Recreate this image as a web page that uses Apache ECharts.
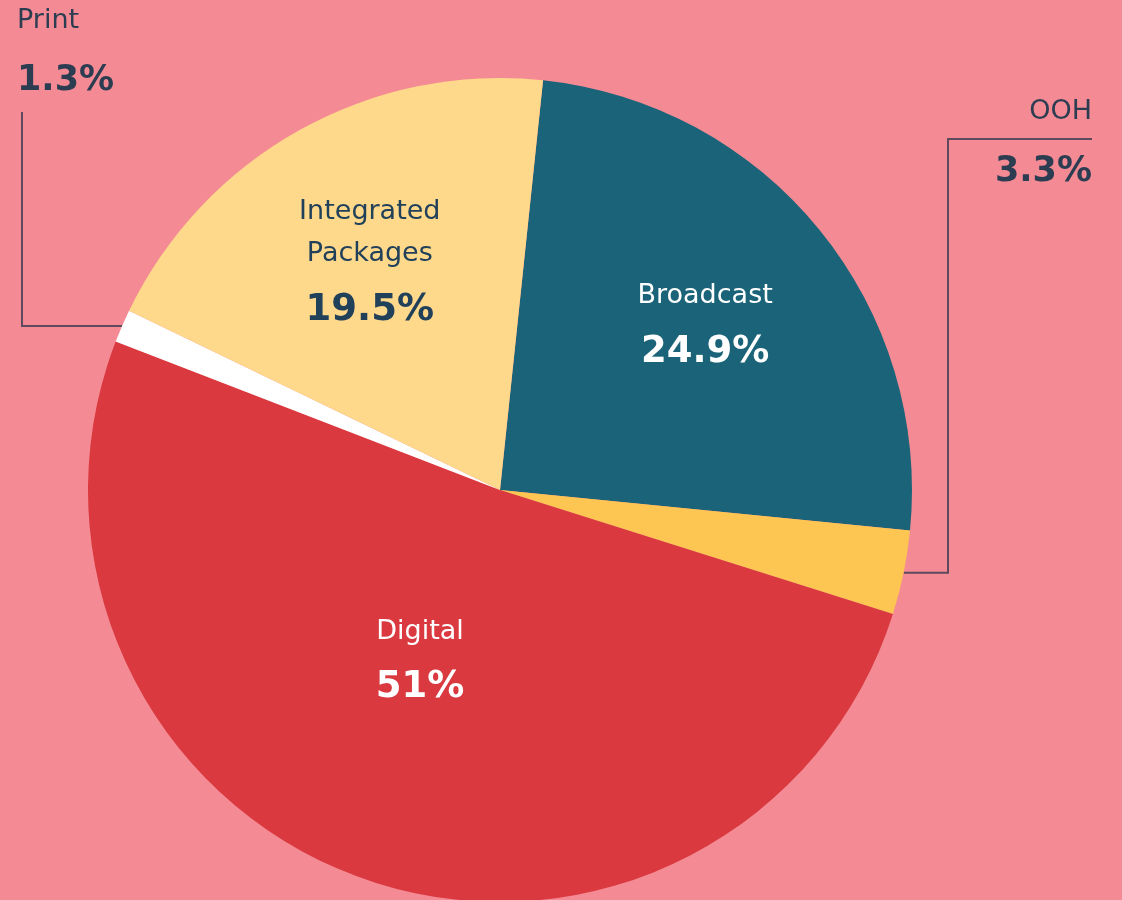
<!DOCTYPE html>
<html>
<head>
  <meta charset="utf-8" />
  <title>Media spend share</title>
  <script src="https://cdn.jsdelivr.net/npm/echarts@6.0.0/dist/echarts.min.js"></script>
</head>
<style>
  body { margin: 0; padding: 0; overflow: hidden; background: #F48B94; }
</style>
<body>
  <div id="main" style="width: 1122px; height: 900px;"></div>
  <script type="text/javascript">
    // data, clockwise from the top
    const categories = ['Broadcast', 'OOH', 'Digital', 'Print', 'Integrated Packages'];
    const shares = [24.9, 3.3, 51, 1.3, 19.5];
    const labelNames = ['Broadcast', 'OOH', 'Digital', 'Print', 'Integrated\nPackages'];
    const valueTexts = ['24.9%', '3.3%', '51%', '1.3%', '19.5%'];

    const colors = ['#1B6378', '#FDC552', '#D9393F', '#FFFFFF', '#FED98B'];
    const CX = 500, CY = 490, R = 412;
    const START = 84; // degrees, echarts convention

    // where the inside labels sit: fraction of radius + small angle nudge (deg)
    const insidePos = { 0: [0.63, 1.4], 2: [0.471, 5], 4: [0.6245, -1.3] };

    // mid angle of slice i (radians, measured clockwise from 12 o'clock)
    function midAngle(i) {
      const total = shares.reduce((a, b) => a + b, 0);
      let acc = 0;
      for (let k = 0; k < i; k++) acc += shares[k];
      const startFromTop = 90 - START;
      return (startFromTop + (acc + shares[i] / 2) / total * 360) * Math.PI / 180;
    }
    function edgePoint(i) {
      const a = midAngle(i);
      return [CX + R * Math.sin(a), CY - R * Math.cos(a)];
    }

    const myChart = echarts.init(document.getElementById('main'));

    const data = categories.map((c, i) => {
      const outside = (i === 1 || i === 3);
      let color = (i === 0 || i === 2) ? '#ffffff' : '#21405A';
      if (outside) color = '#2C3D52';
      return {
        name: c,
        value: shares[i],
        itemStyle: { color: colors[i] },
        label: {
          position: outside ? 'outside' : 'inside',
          color: color,
          formatter: '{n|' + labelNames[i].split('\n').join('}\n{n|') + '}\n{' + (outside ? 'vo' : 'v') + '|' + valueTexts[i] + '}',
          align: outside ? (i === 3 ? 'left' : 'right') : 'center'
        },
        labelLine: {
          show: outside,
          lineStyle: { color: '#5E4A5C', width: 2 }
        }
      };
    });

    const option = {
      backgroundColor: '#F48B94',
      animation: false,
      series: [{
        type: 'pie',
        center: [CX, CY],
        radius: R,
        startAngle: START,
        clockwise: true,
        silent: true,
        label: {
          show: true,
          overflow: 'none',
          fontFamily: 'DejaVu Sans',
          rich: {
            n: { fontSize: 27, lineHeight: 42, fontFamily: 'DejaVu Sans' },
            v: { fontSize: 37, fontWeight: 'bold', lineHeight: 70, fontFamily: 'DejaVu Sans' },
            vo: { fontSize: 35, fontWeight: 'bold', lineHeight: 78, fontFamily: 'DejaVu Sans' }
          }
        },
        labelLayout: function (params) {
          const i = params.dataIndex;
          if (i === 3) {
            const p = edgePoint(i);
            return {
              x: 17, y: 0, align: 'left', verticalAlign: 'top',
              labelLinePoints: [p, [22, p[1]], [22, 112]]
            };
          }
          if (i === 1) {
            const p = edgePoint(i);
            return {
              x: 1092, y: 91, align: 'right', verticalAlign: 'top',
              labelLinePoints: [p, [948, p[1]], [948, 139], [1092, 139]]
            };
          }
          const pos = insidePos[i];
          const a = midAngle(i) + pos[1] * Math.PI / 180;
          return {
            x: CX + R * pos[0] * Math.sin(a),
            y: CY - R * pos[0] * Math.cos(a),
            align: 'center', verticalAlign: 'middle'
          };
        },
        data: data
      }]
    };
    myChart.setOption(option);
  </script>
</body>
</html>
